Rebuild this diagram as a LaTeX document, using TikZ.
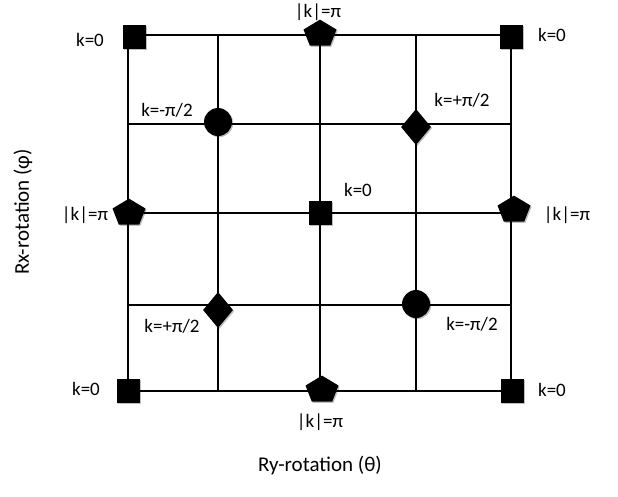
\documentclass[tikz,border=0pt]{standalone}
\usepackage{fontspec}
\setmainfont{Carlito}
\usetikzlibrary{shapes.geometric,shadows}
\begin{document}
\begin{tikzpicture}[x=1pt,y=-1pt,
  gridline/.style={line width=2pt, black},
  softshadow/.style={drop shadow={shadow xshift=1.2pt, shadow yshift=-1.2pt, opacity=0.25, fill=black}},
  sqmark/.style={rectangle, fill=black, minimum width=23pt, minimum height=24pt, inner sep=0pt, softshadow},
  circmark/.style={circle, fill=black, minimum size=28pt, inner sep=0pt, softshadow},
  diamark/.style={diamond, fill=black, minimum width=30pt, minimum height=36pt, inner sep=0pt, softshadow},
  pentmark/.style={regular polygon, regular polygon sides=5, fill=black, minimum size=34.7pt, inner sep=0pt, yscale=0.83, transform shape, softshadow},
  lab/.style={font=\fontsize{19}{22}\selectfont, inner sep=0pt},
  axislab/.style={font=\fontsize{21}{25}\selectfont, inner sep=0pt}]
\useasboundingbox (0,0) rectangle (618,496);
% grid points
\foreach \c/\x in {1/128,2/218,3/320,4/416,5/511}{
  \foreach \r/\y in {1/35,2/124,3/213,4/305,5/391}{
    \coordinate (g\c\r) at (\x,\y);
  }
}
% grid lines
\foreach \r in {1,...,5}{ \draw[gridline] (g1\r) -- (g5\r); }
\foreach \c in {1,...,5}{ \draw[gridline] (g\c1) -- (g\c5); }
% squares
\node[sqmark] (s1) at ([shift={(6,2)}]g11) {};
\node[sqmark] (s2) at ([shift={(0,2)}]g51) {};
\node[sqmark] (s3) at (g33) {};
\node[sqmark] (s4) at (g15) {};
\node[sqmark] (s5) at ([shift={(1,0)}]g55) {};
% pentagons
\node[pentmark] (p1) at ([shift={(0,-1)}]g31) {};
\node[pentmark] (p2) at ([shift={(1,0)}]g13) {};
\node[pentmark] (p3) at ([shift={(3,-3)}]g53) {};
\node[pentmark] (p4) at ([shift={(2,-1)}]g35) {};
% circles
\node[circmark] (c1) at ([shift={(0,-2)}]g22) {};
\node[circmark] (c2) at ([shift={(0,-1)}]g44) {};
% diamonds
\node[diamark] (d1) at ([shift={(0,3)}]g42) {};
\node[diamark] (d2) at ([shift={(0,5)}]g24) {};
% labels
\node[lab] (l1) at (90,40) {k=0};
\node[lab] (l2) at (167,110) {k=-π/2};
\node[lab] (l3) at (318,12) {|k|=π};
\node[lab] (l4) at (552,35) {k=0};
\node[lab] (l5) at (462,100) {k=+π/2};
\node[lab] (l6) at (85,215) {|k|=π};
\node[lab] (l7) at (358,190) {k=0};
\node[lab] (l8) at (567,215) {|k|=π};
\node[lab] (l9) at (172,326) {k=+π/2};
\node[lab] (l10) at (472,324) {k=-π/2};
\node[lab] (l11) at (86,389) {k=0};
\node[lab] (l12) at (552,390) {k=0};
\node[lab] (l13) at (320,422) {|k|=π};
\node[axislab] (ax) at (320,466) {Ry-rotation (θ)};
\node[axislab, rotate=90] (ay) at (23,212) {Rx-rotation (φ)};
\end{tikzpicture}
\end{document}
